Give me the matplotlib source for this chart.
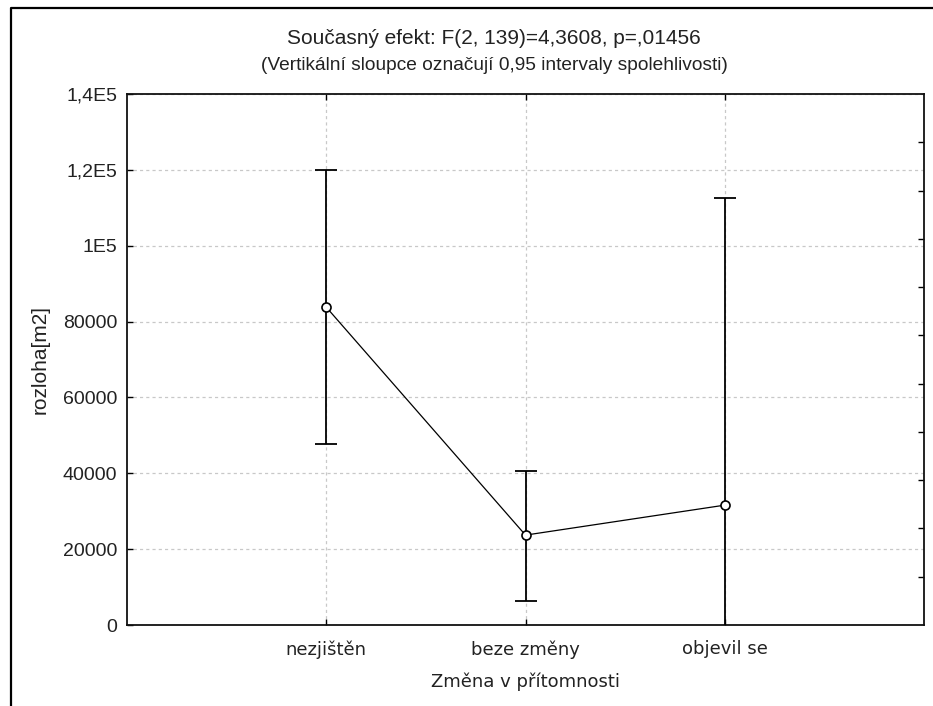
import numpy as np
import matplotlib.pyplot as plt
from matplotlib.lines import Line2D
from matplotlib.ticker import FixedLocator

plt.rcParams['font.family'] = ['Liberation Sans', 'DejaVu Sans']

# data
categories = ['nezjištěn', 'beze změny', 'objevil se']
means = [83800, 23700, 31600]
upper = [119900, 40500, 112500]
lower = [47700, 6300, -49300]
yticks = [0, 20000, 40000, 60000, 80000, 100000, 120000, 140000]
ytick_labels = ['0', '20000', '40000', '60000', '80000', '1E5', '1,2E5', '1,4E5']

x = np.arange(1, len(categories) + 1)
means = np.array(means)
err = [means - np.array(lower), np.array(upper) - means]

fig = plt.figure(figsize=(9.33, 7.06), dpi=100)
ax = fig.add_axes([127/933, 1 - 625/706, (924 - 127)/933, (625 - 94)/706])

ax.errorbar(x, means, yerr=err, fmt='none', ecolor='black', elinewidth=1.3,
            capsize=8, capthick=1.3, zorder=3)
ax.plot(x, means, color='black', lw=0.9, marker='o', ms=6.5, mfc='white',
        mec='black', mew=1.2, zorder=4)

ax.set_xlim(0, 4)
ax.set_ylim(0, 140000)
ax.set_xticks(x)
ax.set_xticklabels(categories, fontsize=13, family='DejaVu Sans', color='#222222')
ax.set_yticks(yticks)
ax.set_yticklabels(ytick_labels, fontsize=14, color='#222222')
ax.yaxis.set_minor_locator(FixedLocator(np.linspace(0, 140000, 12)[1:-1]))

ax.tick_params(axis='x', which='major', direction='in', top=True, bottom=True,
               length=4, width=1, pad=11)
ax.tick_params(axis='y', which='major', direction='in', left=True, right=False,
               length=4, width=1, pad=7)
ax.tick_params(axis='y', which='minor', direction='in', left=False, right=True,
               length=4, width=1)

ax.grid(True, which='major', color='#c8c8c8', linestyle=(0, (2.5, 2.5)), lw=0.9)
ax.set_axisbelow(True)
for s in ax.spines.values():
    s.set_linewidth(1.3)
    s.set_color('#111111')

ax.set_xlabel('Změna v přítomnosti', fontsize=13, family='DejaVu Sans',
              color='#222222', labelpad=10)
fig.text(40/933, 1 - 360/706, 'rozloha[m2]', rotation=90, fontsize=15,
         ha='center', va='center', color='#222222')

fig.text(494/933, 1 - 38/706, 'Současný efekt: F(2, 139)=4,3608, p=,01456',
         fontsize=15, ha='center', va='center', color='#222222')
fig.text(494/933, 1 - 66/706, '(Vertikální sloupce označují 0,95 intervaly spolehlivosti)',
         fontsize=13.8, ha='center', va='center', color='#222222')

# outer frame (top and left edges only)
fig.add_artist(Line2D([11/933, 11/933, 1], [0, 1 - 8/706, 1 - 8/706],
                      transform=fig.transFigure, color='black', lw=1.6))

fig.savefig('out.png', dpi=100)
